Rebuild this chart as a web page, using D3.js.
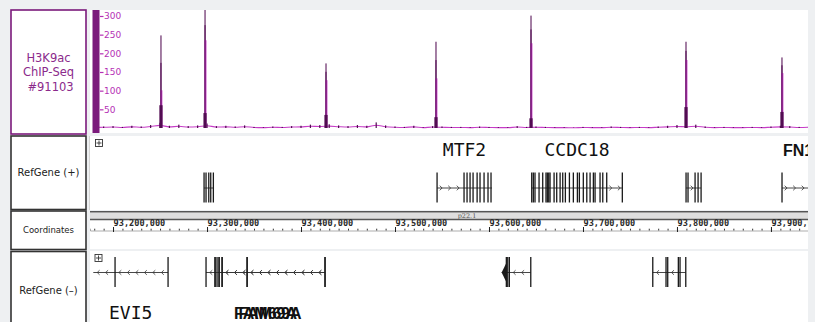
<!DOCTYPE html>
<html>
<head>
<meta charset="utf-8">
<script src="https://cdn.jsdelivr.net/npm/d3@7/dist/d3.min.js"></script>
<style>
html, body { margin: 0; padding: 0; background: #eef0f2; }
svg { display: block; }
</style>
</head>
<body>
<svg id="browser" width="815" height="322"></svg>
<script>
// ---- data ----
var viewRange   = [ 93175500, 93939400 ];           // bp shown in the window
var yTicks      = [ 50, 100, 150, 200, 250, 300 ];
var axisMajor   = [ 93200000, 93300000, 93400000, 93500000, 93600000, 93700000, 93800000, 93900000 ];
var cytoBand    = { name: 'p22.1', pos: 93576600 };

// background coverage, 10 kb bins from 93,180,000
var binStart    = 93180000;
var binSize     = 10000;
var background  = [ 3, 4, 5, 3, 6, 4, 8, 14, 6, 9, 5, 7, 12, 5, 6, 4, 7, 3, 2, 4,
                    3, 5, 6, 9, 8, 10, 7, 5, 8, 6, 15, 7, 4, 3, 6, 2, 5, 4, 3, 3,
                    2, 4, 3, 2, 2, 5, 3, 4, 3, 2, 2, 1, 3, 2, 2, 4, 3, 2, 3, 2,
                    4, 6, 8, 7, 9, 4, 2, 3, 2, 2, 3, 2, 4, 6, 5, 3, 4 ];

// peaks: position, tip, middle (magenta) and base heights
var peakPos     = [ 93251000, 93297900, 93426600, 93543600, 93644700, 93809600, 93911700 ];
var peakTop     = [ 248, 316, 173, 231, 301, 231, 189 ];
var peakMid     = [ 101, 235, 128, 133, 227, 182, 147 ];
var peakBase    = [ 61, 40, 35, 29, 26, 56, 43 ];

// RefGene, + strand
var plusGenes = [
	  { name: '',       start: 93296800, end: 93306700, exons: [ 93296800, 93298900, 93301800, 93303900, 93306700 ] }
	, { name: 'MTF2',   start: 93544700, end: 93603200, exons: [ 93544700, 93573400, 93576600, 93579800, 93583000, 93587300, 93590400, 93594700, 93598900, 93602100 ] }
	, { name: 'CCDC18', start: 93645400, end: 93741800, exons: [ 93645400, 93647100, 93648900, 93653200, 93657100, 93660600, 93662000, 93663500, 93664900, 93669200, 93672000, 93675600, 93678400, 93681200, 93685500, 93689700, 93694000, 93696100, 93700300, 93704000, 93707500, 93711000, 93712800, 93718100, 93721000, 93725200, 93741800 ] }
	, { name: '',       start: 93809600, end: 93825600, exons: [ 93809600, 93811700, 93819200, 93822400, 93825600 ] }
	, { name: 'FN1',    start: 93911700, end: 93975000, exons: [ 93911700, 93975000 ], bold: true }
];
// RefGene, - strand
var minusGenes = [
	  { name: 'EVI5',   start: 93179000, end: 93258500, exons: [ 93202100, 93258500 ] }
	, { name: 'FAM69A', start: 93298900, end: 93425500, exons: [ 93298900, 93308500, 93310600, 93312800, 93316000, 93342600, 93425500 ], bold: true }
	, { name: 'FAM69A', start: 93308500, end: 93425500, exons: [ 93308500, 93312800, 93316000, 93342600, 93425500 ], bold: true }
	, { name: '',       start: 93613500, end: 93644400, exons: [ 93618400, 93619900, 93621600, 93644400 ], tip: 93618400 }
	, { name: '',       start: 93774200, end: 93809300, exons: [ 93774200, 93788300, 93790100, 93801400, 93803200, 93809300 ] }
];

// ---- layout ----
var W = 815, H = 322;
var TX = { x0: 90, x1: 808 };               // track area
var tracks = {
	  signal : { y0: 10,  y1: 133 }
	, plus   : { y0: 136, y1: 210 }
	, coords : { y0: 211, y1: 249 }
	, minus  : { y0: 251, y1: 330 }
};
var color = {
	  bg      : '#eef0f2'
	, purple  : '#7b1a7b'
	, dark    : '#520c52'
	, magenta : '#c63cc6'
	, label   : '#8b2a8b'
	, tick    : '#b530b5'
	, ink     : '#1a1a1a'
};

var svg = d3.select( '#browser' );
var defs = svg.append( 'defs' );
defs.append( 'clipPath' ).attr( 'id', 'trackclip' )
	.append( 'rect' ).attr( 'x', TX.x0 ).attr( 'y', 0 ).attr( 'width', TX.x1 - TX.x0 ).attr( 'height', H );

var x = d3.scaleLinear().domain( viewRange ).range( [ TX.x0, TX.x1 ] );

// track backgrounds
Object.keys( tracks ).forEach( k => {
	var t = tracks[ k ];
	svg.append( 'rect' )
		.attr( 'x', TX.x0 ).attr( 'y', t.y0 )
		.attr( 'width', TX.x1 - TX.x0 ).attr( 'height', t.y1 - t.y0 )
		.attr( 'fill', '#fff' );
} );
svg.append( 'line' ).attr( 'x1', 89.5 ).attr( 'x2', 89.5 ).attr( 'y1', 136 ).attr( 'y2', 210 )
	.attr( 'stroke', '#d4d4d4' );

// ---- left label boxes ----
function labelBox( y0, y1, lines, opt ) {
	svg.append( 'rect' )
		.attr( 'x', 11 ).attr( 'y', y0 )
		.attr( 'width', 75 ).attr( 'height', y1 - y0 )
		.attr( 'fill', '#fff' )
		.attr( 'stroke', opt.stroke ).attr( 'stroke-width', 1.6 );
	var cy = ( y0 + y1 ) / 2 - ( lines.length - 1 ) * opt.lh / 2;
	lines.forEach( ( s, i ) => {
		svg.append( 'text' )
			.attr( 'x', 48.5 + ( s.dx || 0 ) ).attr( 'y', cy + i * opt.lh )
			.attr( 'dy', '0.35em' )
			.attr( 'text-anchor', 'middle' )
			.attr( 'font-family', 'DejaVu Sans, sans-serif' )
			.attr( 'font-size', opt.size )
			.attr( 'fill', opt.fill )
			.text( s.t || s );
	} );
}
labelBox( 10, 134, [ 'H3K9ac', 'ChIP-Seq', { t: '#91103', dx: 2 } ], { stroke: color.purple, fill: color.label, size: 11.5, lh: 14.5 } );
labelBox( 136, 209.5, [ 'RefGene (+)' ], { stroke: '#333', fill: '#222', size: 10, lh: 0 } );
labelBox( 211, 249.5, [ 'Coordinates' ], { stroke: '#333', fill: '#222', size: 8.5, lh: 0 } );
labelBox( 251.5, 330, [ 'RefGene (\u2013)' ], { stroke: '#333', fill: '#222', size: 10, lh: 0 } );

// ---- signal track ----
var st = tracks.signal;
var y = d3.scaleLinear().domain( [ 0, 316 ] ).range( [ 128, st.y0 ] );
var sig = svg.append( 'g' ).attr( 'clip-path', 'url(#trackclip)' );

var bins = background.map( ( v, i ) => ( { pos: binStart + i * binSize, v: v } ) );
sig.append( 'path' )
	.datum( bins )
	.attr( 'fill', 'none' )
	.attr( 'stroke', color.magenta )
	.attr( 'stroke-width', 1.1 )
	.attr( 'd', d3.line().x( d => x( d.pos ) ).y( d => y( d.v / 2 ) ).curve( d3.curveMonotoneX ) );
sig.selectAll( 'rect.bg' )
	.data( bins )
	.join( 'rect' )
	.attr( 'class', 'bg' )
	.attr( 'x', d => x( d.pos ) - 0.6 )
	.attr( 'width', 1.2 )
	.attr( 'y', d => y( d.v ) )
	.attr( 'height', d => y( 0 ) - y( d.v ) )
	.attr( 'fill', color.dark );

var peaks = peakPos.map( ( p, i ) => ( { pos: p, top: peakTop[ i ], mid: peakMid[ i ], base: peakBase[ i ] } ) );
var pk = sig.selectAll( 'g.peak' ).data( peaks ).join( 'g' ).attr( 'class', 'peak' );
pk.append( 'rect' )   // tip
	.attr( 'x', d => x( d.pos ) - 0.7 ).attr( 'width', 1.4 )
	.attr( 'y', d => y( d.top ) ).attr( 'height', d => y( 0 ) - y( d.top ) )
	.attr( 'fill', '#7e4a7e' );
pk.append( 'rect' )   // magenta body
	.attr( 'x', d => x( d.pos ) - 0.6 ).attr( 'width', 2 )
	.attr( 'y', d => y( d.mid ) ).attr( 'height', d => y( 0 ) - y( d.mid ) )
	.attr( 'fill', color.magenta );
pk.append( 'rect' )   // dark centre line
	.attr( 'x', d => x( d.pos ) - 0.5 ).attr( 'width', 1 )
	.attr( 'y', d => y( ( d.top + d.mid ) / 2 ) ).attr( 'height', d => y( 0 ) - y( ( d.top + d.mid ) / 2 ) )
	.attr( 'fill', color.dark );
pk.append( 'rect' )   // base
	.attr( 'x', d => x( d.pos ) - 1.6 ).attr( 'width', 3.2 )
	.attr( 'y', d => y( d.base ) ).attr( 'height', d => y( 0 ) - y( d.base ) )
	.attr( 'fill', color.dark );

// y axis: purple bar + magenta ticks
svg.append( 'rect' ).attr( 'x', 92.5 ).attr( 'y', st.y0 ).attr( 'width', 7 ).attr( 'height', st.y1 - st.y0 )
	.attr( 'fill', color.purple );
var yAxis = svg.append( 'g' )
	.attr( 'transform', 'translate(100,0)' )
	.call( d3.axisRight( y ).tickValues( yTicks ).tickSize( 3.5 ).tickPadding( 0.5 ) );
yAxis.select( '.domain' ).remove();
yAxis.selectAll( 'line' ).attr( 'stroke', color.tick ).attr( 'stroke-width', 1.2 );
yAxis.selectAll( 'text' )
	.attr( 'fill', color.tick )
	.attr( 'font-family', 'DejaVu Sans, sans-serif' )
	.attr( 'font-size', 9 );

// ---- coordinates track ----
var ct = tracks.coords;
svg.append( 'rect' ).attr( 'x', TX.x0 ).attr( 'y', ct.y0 + 1.5 ).attr( 'width', TX.x1 - TX.x0 ).attr( 'height', 6.5 )
	.attr( 'fill', '#dedede' );
[ ct.y0 + 0.8, ct.y0 + 8.5 ].forEach( yy => {
	svg.append( 'line' ).attr( 'x1', TX.x0 ).attr( 'x2', TX.x1 ).attr( 'y1', yy ).attr( 'y2', yy )
		.attr( 'stroke', '#555' ).attr( 'stroke-width', 1.4 );
} );
svg.append( 'text' )
	.attr( 'x', x( cytoBand.pos ) ).attr( 'y', ct.y0 + 6.8 )
	.attr( 'text-anchor', 'middle' )
	.attr( 'font-family', 'DejaVu Serif, serif' )
	.attr( 'font-size', 6.5 )
	.attr( 'fill', '#555' )
	.text( cytoBand.name );

var coordG = svg.append( 'g' ).attr( 'clip-path', 'url(#trackclip)' );
var minorTicks = d3.range( 93180000, 93940001, 10000 );
var axisG = coordG.append( 'g' )
	.attr( 'transform', 'translate(0,' + ( ct.y0 + 19.5 ) + ')' )
	.call( d3.axisTop( x ).tickValues( minorTicks ).tickSize( 1.8 ).tickFormat( '' ) );
axisG.select( '.domain' ).attr( 'stroke', '#777' ).attr( 'stroke-width', 0.6 );
axisG.selectAll( 'line' ).attr( 'stroke', '#333' );
var majorG = coordG.append( 'g' )
	.attr( 'transform', 'translate(0,' + ( ct.y0 + 19.5 ) + ')' )
	.call( d3.axisTop( x ).tickValues( axisMajor ).tickSize( 3.5 ).tickPadding( 1.5 ).tickFormat( d3.format( ',' ) ) );
majorG.select( '.domain' ).remove();
majorG.selectAll( 'line' ).attr( 'stroke', '#222' ).attr( 'y2', -3.5 ).attr( 'y1', 1.5 );
majorG.selectAll( 'text' )
	.attr( 'text-anchor', 'start' )
	.attr( 'x', 0 )
	.attr( 'font-family', 'DejaVu Sans Mono, monospace' )
	.attr( 'font-weight', 'bold' )
	.attr( 'font-size', 8.6 )
	.attr( 'fill', '#2a2a2a' );

// ---- gene tracks ----
function expandIcon( x0, y0 ) {
	var g = svg.append( 'g' ).attr( 'transform', 'translate(' + x0 + ',' + y0 + ')' );
	g.append( 'rect' ).attr( 'x', 0.5 ).attr( 'y', 0.5 ).attr( 'width', 7 ).attr( 'height', 7 )
		.attr( 'fill', '#fff' ).attr( 'stroke', '#333' ).attr( 'stroke-width', 0.9 );
	g.append( 'path' ).attr( 'd', 'M4,1.5V6.5M1.5,4H6.5' ).attr( 'stroke', '#333' ).attr( 'stroke-width', 0.9 );
}

function drawGenes( genes, strand, cy, labelY ) {
	var g = svg.append( 'g' ).attr( 'clip-path', 'url(#trackclip)' );
	var half = 15;
	genes.forEach( gene => {
		var gx0 = x( gene.start ), gx1 = x( gene.end );
		g.append( 'line' )
			.attr( 'x1', gx0 ).attr( 'x2', gx1 ).attr( 'y1', cy + 0.5 ).attr( 'y2', cy + 0.5 )
			.attr( 'stroke', '#333' ).attr( 'stroke-width', 0.9 );
		// 5' end arrow head of the minus strand transcript
		if ( gene.tip ) {
			var tx = x( gene.tip );
			g.append( 'path' )
				.attr( 'd', 'M' + gx0 + ',' + ( cy + 0.5 ) + 'L' + tx + ',' + ( cy - 9 ) + 'L' + tx + ',' + ( cy + 10 ) + 'Z' )
				.attr( 'fill', color.ink );
		}
		// strand chevrons in the gaps between exons
		var stops = [ gx0 ].concat( gene.exons.map( e => x( e ) ) ).concat( [ gx1 ] ).sort( ( a, b ) => a - b );
		var marks = [];
		for ( var i = 1; i < stops.length; i++ ) {
			var a = stops[ i - 1 ], b = stops[ i ];
			if ( b - a < 6 ) continue;
			for ( var p = a + 4.5; p < b - 2; p += 8.5 ) marks.push( p );
		}
		if ( gene.tip ) marks = marks.filter( p => p > x( gene.tip ) );
		g.selectAll( null ).data( marks ).join( 'path' )
			.attr( 'd', p => strand > 0
				? 'M' + ( p - 1.8 ) + ',' + ( cy - 1.8 ) + 'L' + ( p + 0.6 ) + ',' + ( cy + 0.5 ) + 'L' + ( p - 1.8 ) + ',' + ( cy + 2.8 )
				: 'M' + ( p + 1.8 ) + ',' + ( cy - 1.8 ) + 'L' + ( p - 0.6 ) + ',' + ( cy + 0.5 ) + 'L' + ( p + 1.8 ) + ',' + ( cy + 2.8 ) )
			.attr( 'fill', 'none' ).attr( 'stroke', '#333' ).attr( 'stroke-width', 0.8 );
		g.selectAll( null ).data( gene.exons ).join( 'rect' )
			.attr( 'x', e => x( e ) - 0.6 ).attr( 'width', 1.3 )
			.attr( 'y', cy - half ).attr( 'height', 2 * half )
			.attr( 'fill', color.ink );
		if ( gene.name ) {
			var v0 = Math.max( gx0, TX.x0 ), v1 = Math.min( gx1, TX.x1 );
			var clipped = gx1 > TX.x1;
			g.append( 'text' )
				.attr( 'x', clipped ? v0 + 1 : ( v0 + v1 ) / 2 )
				.attr( 'y', labelY )
				.attr( 'text-anchor', clipped ? 'start' : 'middle' )
				.attr( 'font-family', gene.bold ? 'Liberation Sans, Arial, sans-serif' : 'DejaVu Sans Mono, monospace' )
				.attr( 'font-weight', gene.bold ? 'bold' : 'normal' )
				.attr( 'font-size', gene.bold ? 16 : 18 )
				.attr( 'fill', '#111' )
				.text( gene.name );
		}
	} );
}

expandIcon( 95, 139 );
expandIcon( 94.5, 254 );
drawGenes( plusGenes, 1, 187.5, 156 );
drawGenes( minusGenes, -1, 272, 319 );
</script>
</body>
</html>
